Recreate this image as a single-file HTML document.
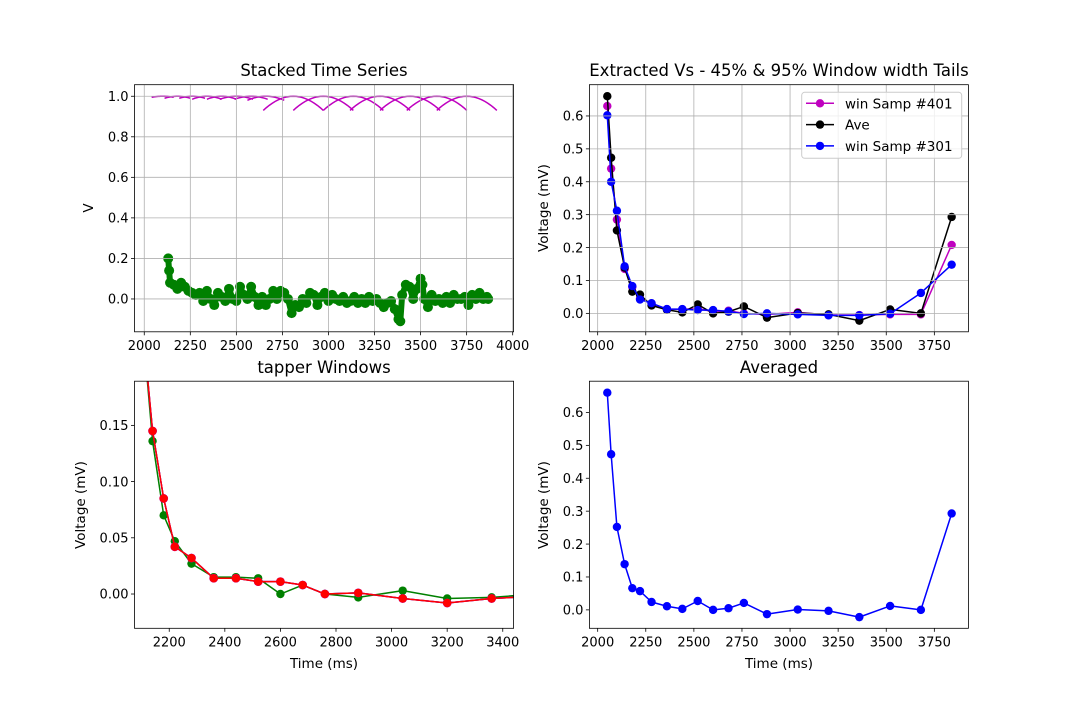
<!DOCTYPE html>
<html><head><meta charset="utf-8"><style>
html,body{margin:0;padding:0;background:#fff;}
svg{display:block;font-family:"DejaVu Sans","Liberation Sans",sans-serif;}
</style></head><body>
<svg id="fig" width="1076" height="706" viewBox="0 0 1076 706" xmlns="http://www.w3.org/2000/svg"></svg>
<script>
const tAve = [2050,2070,2100,2140,2180,2220,2280,2360,2440,2520,2600,2680,2760,2880,3040,3200,3360,3520,3680,3840];
const vAve = [0.66,0.473,0.252,0.139,0.066,0.057,0.024,0.011,0.003,0.027,0.0,0.005,0.021,-0.013,0.001,-0.003,-0.022,0.012,0.0,0.293];
const v401 = [0.63,0.44,0.285,0.135,0.08,0.045,0.03,0.013,0.012,0.015,0.005,0.008,0.0,-0.003,0.003,-0.005,-0.005,-0.003,-0.003,0.208];
const v301 = [0.602,0.40,0.312,0.143,0.083,0.042,0.031,0.013,0.013,0.01,0.01,0.006,-0.002,0.0,-0.003,-0.006,-0.006,-0.001,0.062,0.148];
const tTap = [2100,2140,2180,2220,2280,2360,2440,2520,2600,2680,2760,2880,3040,3200,3360,3520];
const vTapGreen = [0.25,0.136,0.07,0.047,0.027,0.015,0.015,0.014,0.0,0.008,0.0,-0.003,0.003,-0.004,-0.003,0.0];
const vTapRed = [0.25,0.145,0.085,0.042,0.032,0.014,0.014,0.011,0.011,0.008,0.0,0.001,-0.004,-0.008,-0.004,-0.002];
const tStack = [2130,2135,2140,2160,2180,2200,2220,2240,2260,2280,2300,2320,2340,2360,2380,2400,2420,2440,2460,2480,2500,2520,2540,2560,2580,2600,2620,2640,2660,2680,2700,2720,2740,2760,2780,2800,2820,2840,2860,2880,2900,2920,2940,2960,2980,3000,3020,3040,3060,3080,3100,3120,3140,3160,3180,3200,3220,3240,3260,3280,3300,3320,3340,3360,3380,3390,3400,3420,3440,3460,3480,3500,3510,3520,3540,3560,3580,3600,3620,3640,3660,3680,3700,3720,3740,3760,3780,3800,3820,3840,3860,3867];
const vStack = [0.20,0.14,0.08,0.07,0.05,0.08,0.06,0.04,0.03,0.02,0.03,-0.01,0.04,0.0,-0.03,0.03,0.01,-0.01,0.05,0.0,-0.01,0.06,0.02,0.0,0.06,0.01,-0.03,0.01,-0.03,0.0,0.04,0.0,0.04,0.03,0.0,-0.07,-0.03,-0.04,0.0,-0.02,0.03,0.02,-0.03,0.01,0.03,-0.01,0.02,0.0,-0.01,0.01,-0.02,-0.01,0.01,-0.02,0.0,-0.02,0.01,-0.01,0.0,-0.02,-0.04,-0.02,-0.01,-0.05,-0.1,-0.11,0.02,0.07,0.06,0.0,0.05,0.1,0.07,0.0,-0.04,0.02,-0.01,0.0,-0.02,0.01,-0.02,0.02,0.0,0.0,0.01,-0.03,0.02,0.0,0.03,0.0,0.01,0.0];
const winCenter = [2100,2180,2260,2340,2420,2500,2580,2660,2809,2972,3135,3280,3443,3588,3751];
const winHalf = [60,70,70,80,80,90,90,100,163,163,163,163,163,163,163];
const winMin = [0.995,0.99,0.99,0.985,0.985,0.985,0.985,0.98,0.93,0.93,0.93,0.93,0.93,0.93,0.93];
const xTicksTop = [2000,2250,2500,2750,3000,3250,3500,3750,4000];
const yTicksTL = [0.0,0.2,0.4,0.6,0.8,1.0];
const xTicksR = [2000,2250,2500,2750,3000,3250,3500,3750];
const yTicksR = [0.0,0.1,0.2,0.3,0.4,0.5,0.6];
const xTicksBL = [2200,2400,2600,2800,3000,3200,3400];
const yTicksBL = [0.00,0.05,0.10,0.15];

const NS="http://www.w3.org/2000/svg";
const svg=document.getElementById('fig');
function mk(tag,attrs,parent){const e=document.createElementNS(NS,tag);for(const k in attrs)e.setAttribute(k,attrs[k]);(parent||svg).appendChild(e);return e;}

function makeAxes(box,xlim,ylim,name){
  const g=mk('g',{});
  
  
  const sx=v=>box.x0+(v-xlim[0])/(xlim[1]-xlim[0])*(box.x1-box.x0);
  const sy=v=>box.y1-(v-ylim[0])/(ylim[1]-ylim[0])*(box.y1-box.y0);
  const cp='cp'+name;
  const defs=mk('defs',{},g);const c=mk('clipPath',{id:cp},defs);mk('rect',{x:box.x0,y:box.y0,width:box.x1-box.x0,height:box.y1-box.y0},c);
  const plot=mk('g',{'clip-path':'url(#'+cp+')'},g);
  return {g,plot,sx,sy,box};
}
function drawTicks(ax,xt,yt,xfmt,yfmt,grid){
  const b=ax.box;
  xt.forEach(v=>{const x=ax.sx(v);
    if(grid){mk('line',{x1:x,x2:x,y1:b.y0,y2:b.y1,stroke:'#b0b0b0','stroke-width':0.8},ax.g);}
    mk('line',{x1:x,x2:x,y1:b.y1,y2:b.y1+3.5,stroke:'#000','stroke-width':0.8},ax.g);
    const t=mk('text',{x:x,y:b.y1+18,'font-size':13,'text-anchor':'middle',fill:'#000'},ax.g);t.textContent=xfmt(v);
    
    
  });
  yt.forEach(v=>{const y=ax.sy(v);
    if(grid){mk('line',{x1:b.x0,x2:b.x1,y1:y,y2:y,stroke:'#b0b0b0','stroke-width':0.8},ax.g);}
    mk('line',{x1:b.x0-3.5,x2:b.x0,y1:y,y2:y,stroke:'#000','stroke-width':0.8},ax.g);
    const t=mk('text',{x:b.x0-6,y:y+4.7,'font-size':13,'text-anchor':'end',fill:'#000'},ax.g);t.textContent=yfmt(v);
    
    
  });
}
function frame(ax){const b=ax.box;mk('rect',{x:b.x0,y:b.y0,width:b.x1-b.x0,height:b.y1-b.y0,fill:'none',stroke:'#000','stroke-width':0.8},ax.g);}
function series(ax,xs,ys,color,name,r,lw){
  const g=mk('g',{},ax.plot);
  
  
  mk('polyline',{points:xs.map((x,i)=>ax.sx(x)+','+ax.sy(ys[i])).join(' '),fill:'none',stroke:color,'stroke-width':lw||1.5,'stroke-linejoin':'round'},g);
  xs.forEach((x,i)=>{const c=mk('circle',{cx:ax.sx(x),cy:ax.sy(ys[i]),r:r||4.2,fill:color},g);
    
    });
}
function label(txt,x,y,size,rot,name){
  const t=mk('text',{x:x,y:y,'font-size':size,'text-anchor':'middle',fill:'#000'});
  if(rot)t.setAttribute('transform','rotate(-90 '+x+' '+y+')');
  t.textContent=txt;
  
  
}
const f1=v=>v.toFixed(1), f0=v=>String(v), f2=v=>v.toFixed(2);

// Top-left
const a1=makeAxes({x0:134.5,x1:513.6,y0:84.7,y1:331.8},[1947,4005],[-0.162,1.057],'stacked-time-series');
drawTicks(a1,xTicksTop,yTicksTL,f0,f1,true);
winCenter.forEach((c,i)=>{
  const pts=[];for(let k=0;k<=20;k++){const u=-1+k/10;const x=c+u*winHalf[i];const y=1-(1-winMin[i])*u*u;pts.push(a1.sx(x)+','+a1.sy(y));}
  const p=mk('polyline',{points:pts.join(' '),fill:'none',stroke:'#bf00bf','stroke-width':1.5},a1.plot);
  
  
});
series(a1,tStack,vStack,'#008000','stacked-signal',5,6);
frame(a1);
label('Stacked Time Series',324,76,16.5,false,'title-stacked');
label('V',93,208,13.5,true,'y-axis-title-v');

// Top-right
const a2=makeAxes({x0:589.4,x1:968.4,y0:84.7,y1:331.8},[1957,3927],[-0.056,0.695],'extracted-vs');
drawTicks(a2,xTicksR,yTicksR,f0,f1,true);
series(a2,tAve,v401,'#bf00bf','win-samp-401');
series(a2,tAve,vAve,'#000000','ave');
series(a2,tAve,v301,'#0000ff','win-samp-301');
frame(a2);
label('Extracted Vs - 45% & 95% Window width Tails',779,76,16.5,false,'title-extracted');
label('Voltage (mV)',548,208,13.5,true,'y-axis-title');
const lg=mk('g',{});


mk('rect',{x:801.7,y:92.3,width:160,height:66,rx:3,fill:'#fff','fill-opacity':0.8,stroke:'#ccc','stroke-width':1},lg);
[['win Samp #401','#bf00bf'],['Ave','#000'],['win Samp #301','#0000ff']].forEach((e,i)=>{
  const y=103.3+i*21.3;
  const eg=mk('g',{},lg);
  
  
  mk('line',{x1:806,x2:834,y1:y,y2:y,stroke:e[1],'stroke-width':1.5},eg);
  mk('circle',{cx:820,cy:y,r:4.2,fill:e[1]},eg);
  const t=mk('text',{x:845,y:y+5,'font-size':13.5,fill:'#000'},eg);t.textContent=e[0];
});

// Bottom-left
const a3=makeAxes({x0:134.5,x1:513.6,y0:381.2,y1:628.3},[2075,3439],[-0.0305,0.1893],'tapper-windows');
drawTicks(a3,xTicksBL,yTicksBL,f0,f2,false);
series(a3,tTap,vTapGreen,'#008000','tapper-green');
series(a3,tTap,vTapRed,'#0000ff','tapper-blue',4.2,1.5);
series(a3,tTap,vTapRed,'#bf00bf','tapper-magenta',4.4,1.5);
series(a3,tTap,vTapRed,'#ff0000','tapper-red');
frame(a3);
label('tapper Windows',324,373,16.5,false,'title-tapper');
label('Voltage (mV)',85,505,13.5,true,'y-axis-title');
label('Time (ms)',324,668,13.5,false,'x-axis-title');

// Bottom-right
const a4=makeAxes({x0:589.4,x1:968.4,y0:381.2,y1:628.3},[1957,3927],[-0.056,0.695],'averaged');
drawTicks(a4,xTicksR,yTicksR,f0,f1,false);
series(a4,tAve,vAve,'#0000ff','averaged-line');
frame(a4);
label('Averaged',779,373,16.5,false,'title-averaged');
label('Voltage (mV)',548,505,13.5,true,'y-axis-title');
label('Time (ms)',779,668,13.5,false,'x-axis-title');
</script>
</body></html>
